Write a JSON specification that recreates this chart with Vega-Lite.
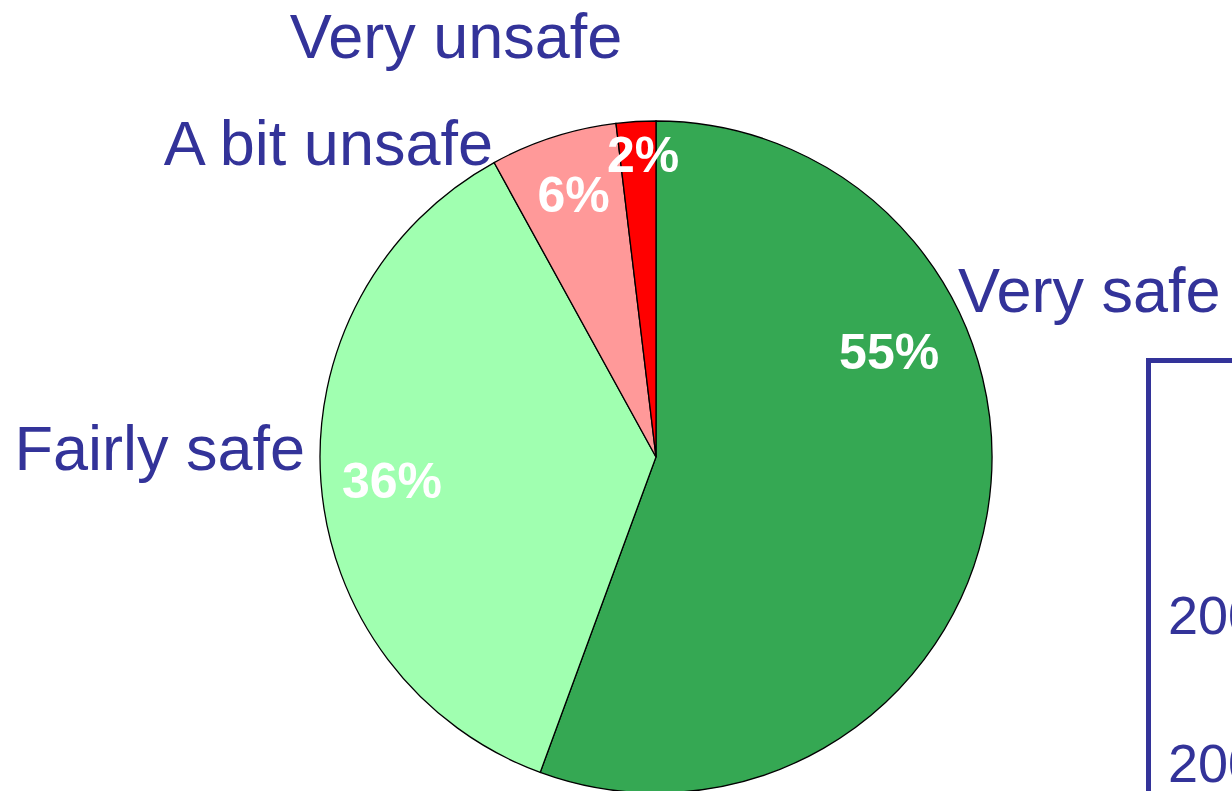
{
  "$schema": "https://vega.github.io/schema/vega-lite/v6.json",
  "background": "white",
  "padding": {"left": 14, "top": 8, "right": 0, "bottom": 0},
  "bounds": "flush",
  "spacing": 0,
  "config": {"view": {"stroke": null}, "font": "Liberation Sans"},
  "datasets": {
    "slices": [
      {"category": "Very safe", "value": 55.6, "pct": "55%", "order": 1},
      {"category": "Fairly safe", "value": 36.4, "pct": "36%", "order": 2},
      {"category": "A bit unsafe", "value": 6.1, "pct": "6%", "order": 3},
      {"category": "Very unsafe", "value": 1.9, "pct": "2%", "order": 4}
    ],
    "years": [{"year": "2006"}, {"year": "2007"}]
  },
  "hconcat": [
    {
      "width": 984,
      "height": 194,
      "data": {"name": "slices"},
      "transform": [
        {"stack": "value", "groupby": [], "sort": [{"field": "order", "order": "ascending"}], "as": ["v0", "v1"]}
      ],
      "encoding": {
        "theta": {"field": "v0", "type": "quantitative", "scale": {"domain": [0, 100]}, "stack": null}
      },
      "layer": [
        {
          "mark": {"type": "arc", "outerRadius": 336, "stroke": "#000000", "strokeWidth": 1.3},
          "encoding": {
            "theta2": {"field": "v1"},
            "color": {
              "field": "category",
              "type": "nominal",
              "scale": {
                "domain": ["Very safe", "Fairly safe", "A bit unsafe", "Very unsafe"],
                "range": ["#35A853", "#A0FFB0", "#FF9999", "#FF0000"]
              },
              "legend": null
            }
          }
        },
        {
          "transform": [{"filter": "datum.category === 'Very safe'"}],
          "mark": {"type": "text", "radius": 254.8, "thetaOffset": 1.1554, "font": "Liberation Sans", "fontSize": 50, "fontWeight": "bold", "color": "#FFFFFF", "align": "center", "baseline": "middle"},
          "encoding": {"text": {"field": "pct"}}
        },
        {
          "transform": [{"filter": "datum.category === 'Fairly safe'"}],
          "mark": {"type": "text", "radius": 265.3, "thetaOffset": 1.1211, "font": "Liberation Sans", "fontSize": 50, "fontWeight": "bold", "color": "#FFFFFF", "align": "center", "baseline": "middle"},
          "encoding": {"text": {"field": "pct"}}
        },
        {
          "transform": [{"filter": "datum.category === 'A bit unsafe'"}],
          "mark": {"type": "text", "radius": 272.8, "thetaOffset": 0.1955, "font": "Liberation Sans", "fontSize": 50, "fontWeight": "bold", "color": "#FFFFFF", "align": "center", "baseline": "middle"},
          "encoding": {"text": {"field": "pct"}}
        },
        {
          "transform": [{"filter": "datum.category === 'Very unsafe'"}],
          "mark": {"type": "text", "radius": 300.3, "thetaOffset": 0.0761, "font": "Liberation Sans", "fontSize": 50, "fontWeight": "bold", "color": "#FFFFFF", "align": "center", "baseline": "middle"},
          "encoding": {"text": {"field": "pct"}}
        },
        {
          "transform": [{"filter": "datum.category === 'Very safe'"}],
          "mark": {"type": "text", "radius": 335, "thetaOffset": 1.1232, "font": "Liberation Sans", "fontSize": 63, "color": "#333399", "align": "left", "baseline": "alphabetic"},
          "encoding": {"text": {"field": "category"}}
        },
        {
          "transform": [{"filter": "datum.category === 'Fairly safe'"}],
          "mark": {"type": "text", "radius": 351.2, "thetaOffset": 1.1819, "font": "Liberation Sans", "fontSize": 63, "color": "#333399", "align": "right", "baseline": "alphabetic"},
          "encoding": {"text": {"field": "category"}}
        },
        {
          "transform": [{"filter": "datum.category === 'A bit unsafe'"}],
          "mark": {"type": "text", "radius": 334.4, "thetaOffset": -0.0065, "font": "Liberation Sans", "fontSize": 63, "color": "#333399", "align": "right", "baseline": "alphabetic"},
          "encoding": {"text": {"field": "category"}}
        },
        {
          "transform": [{"filter": "datum.category === 'Very unsafe'"}],
          "mark": {"type": "text", "radius": 446.3, "thetaOffset": -0.3452, "font": "Liberation Sans", "fontSize": 63, "color": "#333399", "align": "center", "baseline": "alphabetic"},
          "encoding": {"text": {"field": "category"}}
        }
      ]
    },
    {
      "width": 84,
      "height": 431,
      "data": {"name": "years"},
      "mark": {"type": "text", "align": "left", "baseline": "alphabetic", "dx": 20, "font": "Liberation Sans", "fontSize": 54, "color": "#333399", "clip": true},
      "encoding": {
        "text": {"field": "year"},
        "y": {
          "field": "year",
          "type": "ordinal",
          "scale": {"type": "point", "padding": 0.956, "align": 0.968},
          "axis": {"orient": "left", "labels": false, "ticks": false, "title": null, "grid": false, "domainColor": "#333399", "domainWidth": 5, "domainCap": "square"}
        },
        "x": {
          "datum": 0,
          "type": "quantitative",
          "scale": {"domain": [0, 1]},
          "axis": {"orient": "top", "labels": false, "ticks": false, "title": null, "grid": false, "domainColor": "#333399", "domainWidth": 5, "domainCap": "square"}
        }
      }
    }
  ]
}
